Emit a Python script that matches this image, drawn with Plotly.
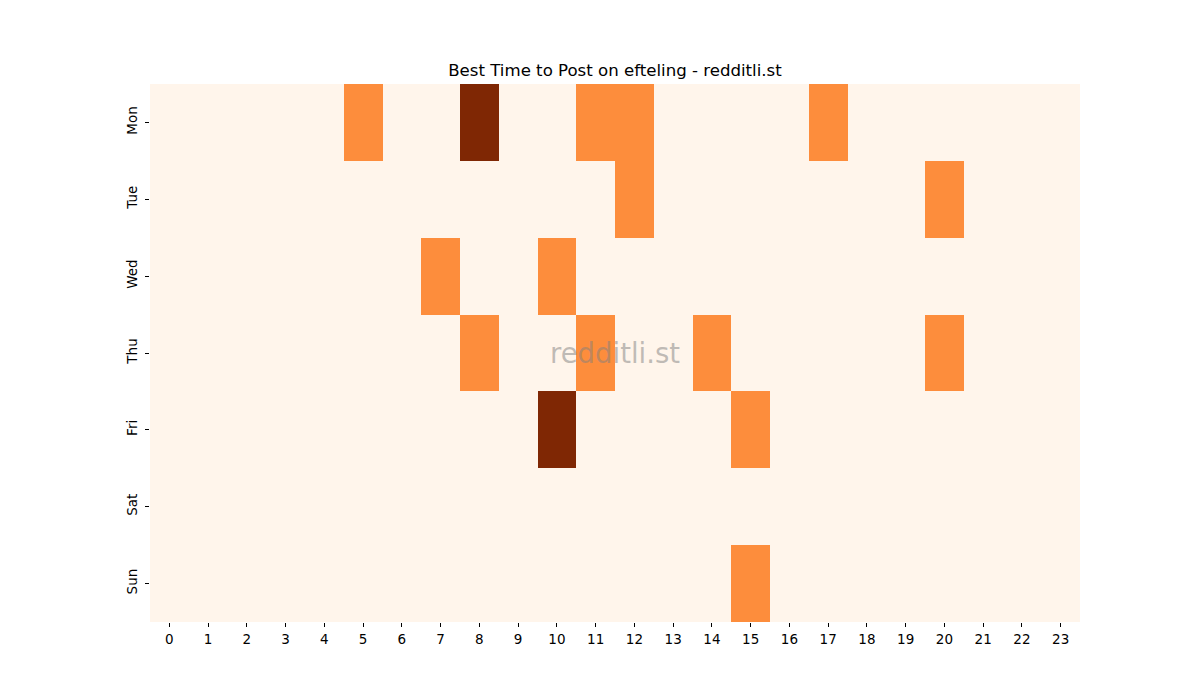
import plotly.graph_objects as go

days = ["Mon", "Tue", "Wed", "Thu", "Fri", "Sat", "Sun"]
hours = list(range(24))

mon = [0,0,0,0,0,1,0,0,2,0,0,1,1,0,0,0,0,1,0,0,0,0,0,0]
tue = [0,0,0,0,0,0,0,0,0,0,0,0,1,0,0,0,0,0,0,0,1,0,0,0]
wed = [0,0,0,0,0,0,0,1,0,0,1,0,0,0,0,0,0,0,0,0,0,0,0,0]
thu = [0,0,0,0,0,0,0,0,1,0,0,1,0,0,1,0,0,0,0,0,1,0,0,0]
fri = [0,0,0,0,0,0,0,0,0,0,2,0,0,0,0,1,0,0,0,0,0,0,0,0]
sat = [0]*24
sun = [0,0,0,0,0,0,0,0,0,0,0,0,0,0,0,1,0,0,0,0,0,0,0,0]

z = [mon, tue, wed, thu, fri, sat, sun]

fig = go.Figure(go.Heatmap(
    z=z, x=hours, y=days,
    colorscale=[[0, "#fff5eb"], [0.5, "#fd8d3c"], [1, "#7f2704"]],
    zmin=0, zmax=2, showscale=False, xgap=0, ygap=0,
    hovertemplate="%{y} %{x}:00 — %{z}<extra></extra>",
))

fig.update_layout(
    width=1200, height=700,
    margin=dict(l=142, r=128, t=76, b=86),
    paper_bgcolor="white", plot_bgcolor="white",
    font=dict(family="DejaVu Sans", size=13.5, color="black"),
    title=dict(text="Best Time to Post on efteling - redditli.st", x=(615 - 8) / 1200, xanchor="center",
               y=1 - 62/700, yanchor="middle", font=dict(size=16.6, color="black")),
    xaxis=dict(tickmode="array", tickvals=hours, ticktext=[str(h) for h in hours],
               ticks="outside", ticklen=4, tickcolor="black", showgrid=False,
               zeroline=False, showline=False, range=[-0.5, 23.5], ticklabelstandoff=1),
    yaxis=dict(tickmode="array", tickvals=days, ticks="outside", ticklen=4, tickcolor="black",
               tickangle=-90, showgrid=False, zeroline=False, showline=False,
               autorange="reversed", categoryorder="array", categoryarray=days,
               ticklabelstandoff=3),
    annotations=[dict(text="redditli.st", x=0.5, y=0.5, xref="paper", yref="paper",
                      showarrow=False, font=dict(size=27.5, color="rgba(128,128,128,0.5)"))],
)

fig.write_html("out.html")
